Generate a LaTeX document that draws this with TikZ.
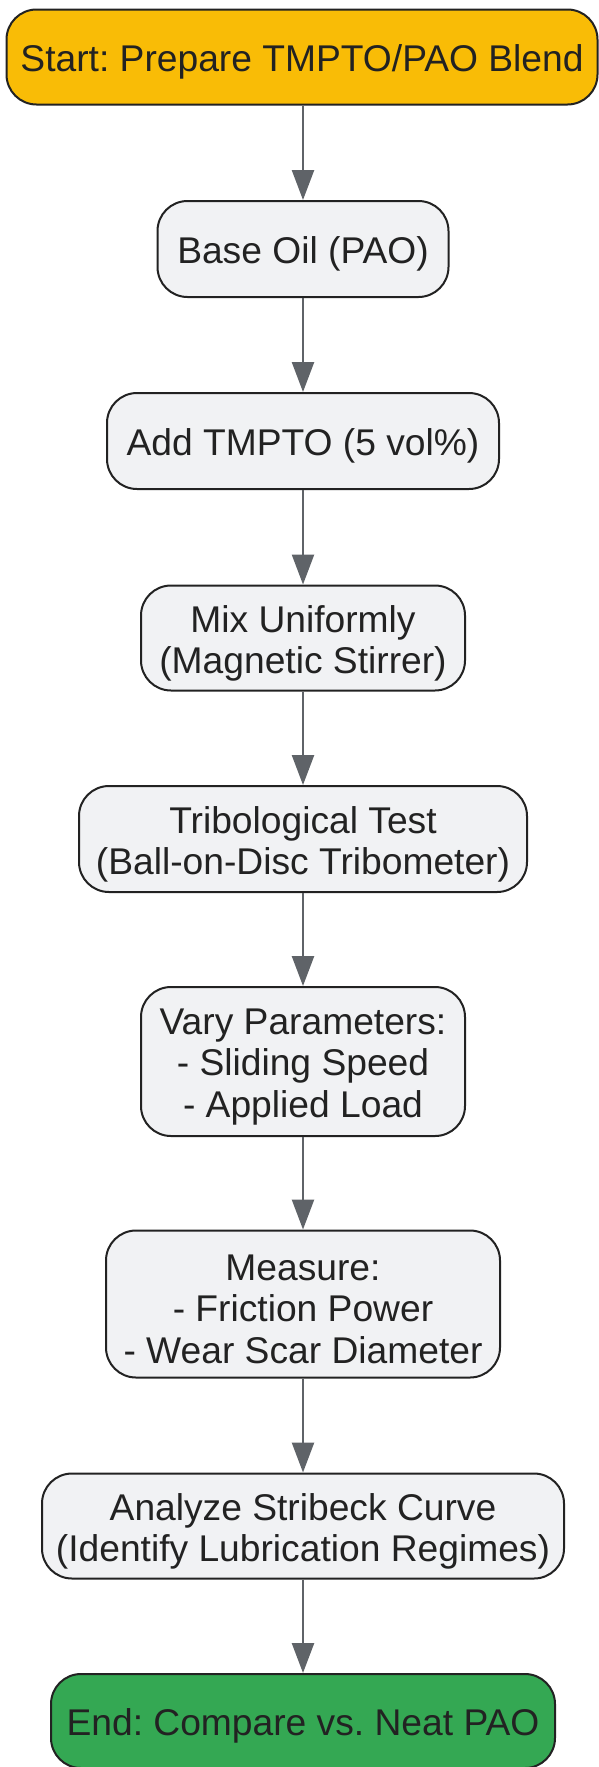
\documentclass[tikz,border=0pt]{standalone}
\usepackage{fontspec}
\setmainfont{Liberation Sans}
\usetikzlibrary{arrows.meta}
\definecolor{startc}{HTML}{F9BC06}
\definecolor{endc}{HTML}{34A853}
\definecolor{boxc}{HTML}{F1F2F4}
\definecolor{linec}{HTML}{222222}
\definecolor{arrc}{HTML}{5F6368}
\tikzset{
  stepbox/.style={draw=linec, line width=2pt, fill=boxc, rounded corners=30pt,
    inner sep=0pt},
  startbox/.style={stepbox, fill=startc},
  endbox/.style={stepbox, fill=endc},
  txt/.style={align=center, inner sep=0pt, text=linec,
    font=\fontsize{37.2}{41.7}\selectfont\frenchspacing},
  flow/.style={draw=arrc, line width=2.5pt, -{Triangle[length=30pt,width=22pt]}}
}
\begin{document}
\begin{tikzpicture}[x=1pt,y=-1pt]
\useasboundingbox (0,0) rectangle (599,1767);
\node[startbox, minimum width=591pt, minimum height=95pt] (n1) at (302,57) {};
\node[stepbox, minimum width=291pt, minimum height=96pt] (n2) at (303,249) {};
\node[stepbox, minimum width=392pt, minimum height=96pt] (n3) at (303,441) {};
\node[stepbox, minimum width=324pt, minimum height=105pt] (n4) at (303,638) {};
\node[stepbox, minimum width=448pt, minimum height=106pt] (n5) at (303,839) {};
\node[stepbox, minimum width=324pt, minimum height=149pt] (n6) at (303,1061.5) {};
\node[stepbox, minimum width=394pt, minimum height=147pt] (n7) at (303,1304) {};
\node[stepbox, minimum width=522pt, minimum height=105pt] (n8) at (303,1526) {};
\node[endbox, minimum width=504pt, minimum height=94pt] (n9) at (303,1721) {};
\node[txt] (t1) at ([yshift=-5.3pt]n1.center) {Start: Prepare TMPTO/PAO Blend};
\node[txt] (t2) at ([yshift=-5.3pt]n2.center) {Base Oil (PAO)};
\node[txt] (t3) at ([yshift=-5.3pt]n3.center) {Add TMPTO (5 vol\%)};
\node[txt] (t4) at ([yshift=-5.3pt]n4.center) {Mix Uniformly\\(Magnetic Stirrer)};
\node[txt] (t5) at ([yshift=-5.3pt]n5.center) {Tribological Test\\(Ball-on-Disc Tribometer)};
\node[txt] (t6) at ([yshift=-5.3pt]n6.center) {Vary Parameters:\\- Sliding Speed\\- Applied Load};
\node[txt] (t7) at ([yshift=-5.3pt]n7.center) {Measure:\\- Friction Power\\- Wear Scar Diameter};
\node[txt] (t8) at ([yshift=-5.3pt]n8.center) {Analyze Stribeck Curve\\(Identify Lubrication Regimes)};
\node[txt] (t9) at ([yshift=-5.3pt]n9.center) {End: Compare vs. Neat PAO};
\draw[flow] (n1.south -| n2.north) -- (n2.north);
\draw[flow] (n2.south) -- (n3.north);
\draw[flow] (n3.south) -- (n4.north);
\draw[flow] (n4.south) -- (n5.north);
\draw[flow] (n5.south) -- (n6.north);
\draw[flow] (n6.south) -- (n7.north);
\draw[flow] (n7.south) -- (n8.north);
\draw[flow] (n8.south) -- (n9.north);
\end{tikzpicture}
\end{document}
